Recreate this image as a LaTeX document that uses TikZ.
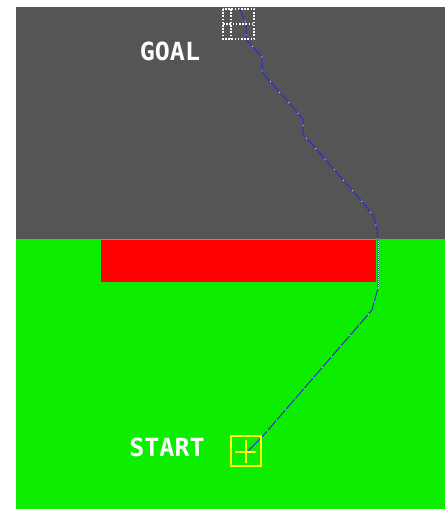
\documentclass[tikz,border=0pt]{standalone}
\usepackage{fontspec}
\newfontfamily\labelfont{DejaVu Sans Mono}
\begin{document}
\begin{tikzpicture}[x=1pt, y=-1pt, font=\labelfont\bfseries\fontsize{25}{30}\selectfont]
	
	% ==========================================
	% 1. COLOURS
	% ==========================================
	\definecolor{wallcol}{RGB}{85, 85, 85}     % dark grey area
	\definecolor{fieldcol}{RGB}{12, 237, 0}    % green area
	\definecolor{blockcol}{RGB}{255, 0, 0}     % red obstacle
	\definecolor{pathcol}{RGB}{45, 45, 205}    % blue route
	\definecolor{markcol}{RGB}{255, 255, 0}    % start marker
	
	\tikzset{
		route/.style={pathcol, line width=1pt, line join=round},
		waypoints/.style={white!70!gray, line width=1pt, dash pattern=on 1pt off 13pt},
		goalbox/.style={white, line width=1.6pt, dash pattern=on 1.6pt off 1.6pt},
		startbox/.style={markcol, line width=1.6pt},
		label/.style={text=white, inner sep=0pt}
	}
	
	\useasboundingbox (0,0) rectangle (445,509);
	
	% ==========================================
	% 2. AREAS
	% ==========================================
	\fill[wallcol] (16,7) rectangle (445,239);
	\fill[fieldcol] (16,239) rectangle (445,509);
	\fill[blockcol] (101,240) rectangle (376,282);
	
	% ==========================================
	% 3. ROUTE
	% ==========================================
	\draw[route] (239,8) -- (246,23) -- (246,39) -- (262,57) -- (262,72)
		-- (303,119) -- (303,134) -- (352,190) -- (359,198) -- (373,215)
		-- (377,229) -- (378,240) -- (378,288) -- (372,310) -- (262,437) -- (247,452);
	\draw[waypoints] (239,8) -- (246,23) -- (246,39) -- (262,57) -- (262,72)
		-- (303,119) -- (303,134) -- (352,190) -- (359,198) -- (373,215)
		-- (377,229) -- (378,240);
	\draw[waypoints] (378,288) -- (372,310) -- (262,437);
	\draw[white!75!gray, line width=1pt, dash pattern=on 1pt off 1pt] (378,241) -- (378,288);
	
	% ==========================================
	% 4. GOAL MARKER
	% ==========================================
	\draw[goalbox] (223,9) rectangle (254,39);
	\draw[goalbox] (223,24) -- (254,24);
	\draw[goalbox] (231,9) -- (231,39);
	
	% ==========================================
	% 5. START MARKER
	% ==========================================
	\draw[startbox] (231,436) rectangle (261,466);
	\draw[startbox] (235,452) -- (256,452);
	\draw[startbox] (246,440) -- (246,463);
	
	% ==========================================
	% 6. LABELS
	% ==========================================
	\node[label] (goallabel) at (170,51) {GOAL};
	\node[label] (startlabel) at (167,447) {START};
	
\end{tikzpicture}
\end{document}
